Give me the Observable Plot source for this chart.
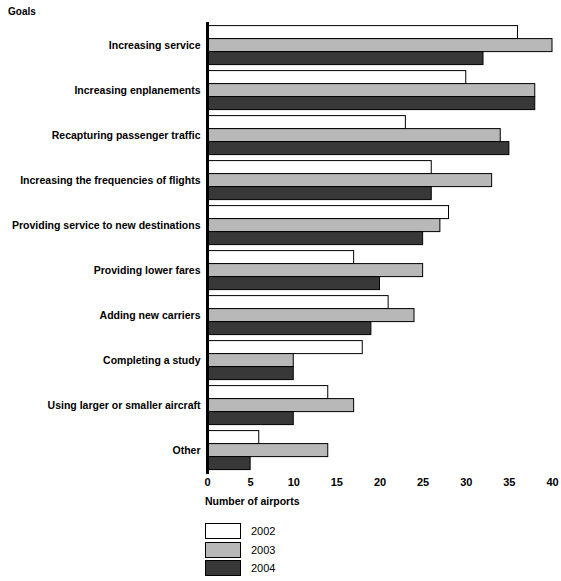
<!DOCTYPE html>
<html>
<head>
<meta charset="utf-8">
<script src="https://cdn.jsdelivr.net/npm/d3@7"></script>
<script src="https://cdn.jsdelivr.net/npm/@observablehq/plot@0.6"></script>
<style>
  body { margin: 0; background: #fff; font-family: "Liberation Sans", Arial, sans-serif; }
  #title { height: 17px; padding-left: 8px; font-size: 10px; font-weight: bold; line-height: 24px; }
  #chart svg { display: block; }
  #xlabel { height: 18px; line-height: 18px; padding-left: 205px; font-size: 10.5px; font-weight: bold; }
  #legend { margin-top: 12px; margin-left: 205px; font-size: 11px; }
  .row { display: flex; align-items: center; height: 18.5px; }
  .sw { width: 34px; height: 14px; border: 1px solid #000; margin-right: 10px; }
</style>
</head>
<body>
<div id="title">Goals</div>
<div id="chart"></div>
<div id="xlabel">Number of airports</div>
<div id="legend"></div>
<script>
const goals = [
  "Increasing service",
  "Increasing enplanements",
  "Recapturing passenger traffic",
  "Increasing the frequencies of flights",
  "Providing service to new destinations",
  "Providing lower fares",
  "Adding new carriers",
  "Completing a study",
  "Using larger or smaller aircraft",
  "Other"
];
const years = ["2002", "2003", "2004"];
const v2002 = [36, 30, 23, 26, 28, 17, 21, 18, 14, 6];
const v2003 = [40, 38, 34, 33, 27, 25, 24, 10, 17, 14];
const v2004 = [32, 38, 35, 26, 25, 20, 19, 10, 10, 5];
const xTicks = [0, 5, 10, 15, 20, 25, 30, 35, 40];
const colors = ["#ffffff", "#b8b8b8", "#383838"];

const series = [v2002, v2003, v2004];
const data = goals.flatMap((g, i) => years.map((y, j) => ({goal: g, year: y, value: series[j][i]})));

const chart = Plot.plot({
  width: 561,
  height: 475,
  marginLeft: 207,
  marginRight: 9,
  marginTop: 4.4,
  marginBottom: 17.4,
  style: {fontFamily: "'Liberation Sans', Arial, sans-serif", fontSize: "11px", fontWeight: "bold", color: "#000", background: "#fff"},
  x: {domain: [0, 40], ticks: xTicks},
  fy: {domain: goals, padding: 0.08, label: null},
  y: {domain: years, axis: null, padding: 0},
  color: {domain: years, range: colors},
  marks: [
    Plot.barX(data, {x: "value", y: "year", fy: "goal", fill: "year", stroke: "#000", strokeWidth: 1}),
    Plot.ruleX([0], {stroke: "#000", strokeWidth: 3, insetTop: -3, insetBottom: -3}),
    Plot.axisX({ticks: xTicks, tickSize: 0, tickPadding: 7, label: null}),
    Plot.axisFy({anchor: "left", tickSize: 0, tickPadding: 7, label: null, fontSize: 10.5})
  ]
});
document.getElementById("chart").appendChild(chart);

const legend = document.getElementById("legend");
years.forEach((y, j) => {
  const row = document.createElement("div");
  row.className = "row";
  const sw = document.createElement("div");
  sw.className = "sw";
  sw.style.background = colors[j];
  const t = document.createElement("span");
  t.textContent = y;
  row.appendChild(sw);
  row.appendChild(t);
  legend.appendChild(row);
});
</script>
</body>
</html>
